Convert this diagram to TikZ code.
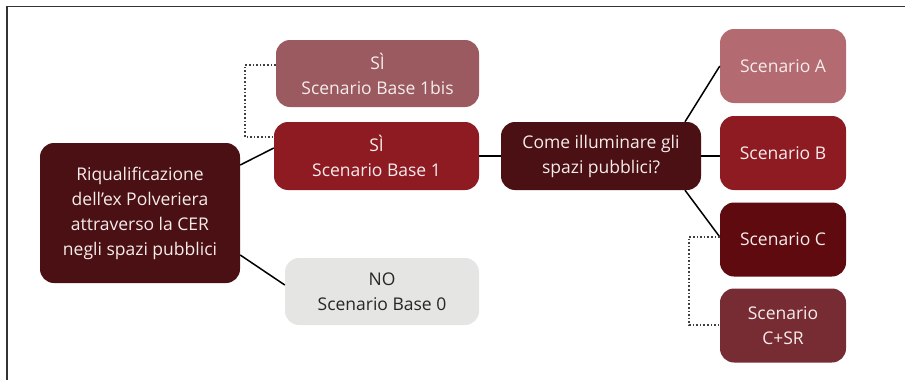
\documentclass[tikz,border=0pt]{standalone}
\usepackage{fontspec}
\setmainfont{Open Sans}
\definecolor{cdark}{HTML}{4B1013}
\definecolor{cbis}{HTML}{9A5A60}
\definecolor{cred}{HTML}{8E1A22}
\definecolor{cA}{HTML}{B36A70}
\definecolor{cC}{HTML}{5E0A0F}
\definecolor{cCSR}{HTML}{772C33}
\definecolor{cno}{HTML}{E5E5E3}
\definecolor{ctext}{HTML}{F6ECEC}
\definecolor{cframe}{HTML}{333333}
\begin{document}
\begin{tikzpicture}[x=1pt,y=-1pt,
  box/.style={rounded corners=14pt, align=center, text=ctext, inner sep=0pt,
    font=\fontsize{17.5}{25}\selectfont},
  link/.style={line width=1.5pt, black},
  dots/.style={line width=1.6pt, dotted, black!75}]
\useasboundingbox (0,0) rectangle (905,380);
\draw[cframe, line width=1.3pt] (905,6.5) -- (7,6.5) -- (7,380);
% nodes
\node[box, fill=cdark, minimum width=200pt, minimum height=140pt] (main) at (140,213)
  {Riqualificazione\\dell’ex Polveriera\\attraverso la CER\\negli spazi pubblici};
\node[box, fill=cbis, minimum width=203pt, minimum height=67pt] (bis) at (377.5,73.5)
  {SÌ\\Scenario Base 1bis};
\node[box, fill=cred, minimum width=205pt, minimum height=68pt] (base1) at (376.5,156)
  {SÌ\\Scenario Base 1};
\node[box, fill=cno, text=black!85, minimum width=194pt, minimum height=67pt] (base0) at (382,291.5)
  {NO\\Scenario Base 0};
\node[box, fill=cdark, minimum width=200pt, minimum height=68pt] (come) at (601,156)
  {Come illuminare gli\\spazi pubblici?};
\node[box, fill=cA, minimum width=126pt, minimum height=74pt] (A) at (783,66)
  {Scenario A};
\node[box, fill=cred, minimum width=126pt, minimum height=74pt] (B) at (783,153)
  {Scenario B};
\node[box, fill=cC, minimum width=126pt, minimum height=74pt] (C) at (783,239.5)
  {Scenario C};
\node[box, fill=cCSR, minimum width=126pt, minimum height=74pt] (CSR) at (783,325.5)
  {Scenario\\C+SR};
% connectors
\draw[link] (main.east |- 0,165) -- (base1.west |- 0,148);
\draw[link] (main.east |- 0,255) -- (base0.west |- 0,285);
\draw[link] (base1.east) -- (come.west);
\draw[link] (come.north -| 685,0) -- (A.west);
\draw[link] (come.east) -- (B.west |- come.east);
\draw[link] (come.south -| 685,0) -- (C.west |- 0,237);
\draw[dots] (bis.west |- 0,65) -- (245,65) -- (245,137) -- (base1.west |- 0,137);
\draw[dots] (C.west |- 0,237) -- (689,237) -- (689,325) -- (CSR.west |- 0,325);
\end{tikzpicture}
\end{document}
